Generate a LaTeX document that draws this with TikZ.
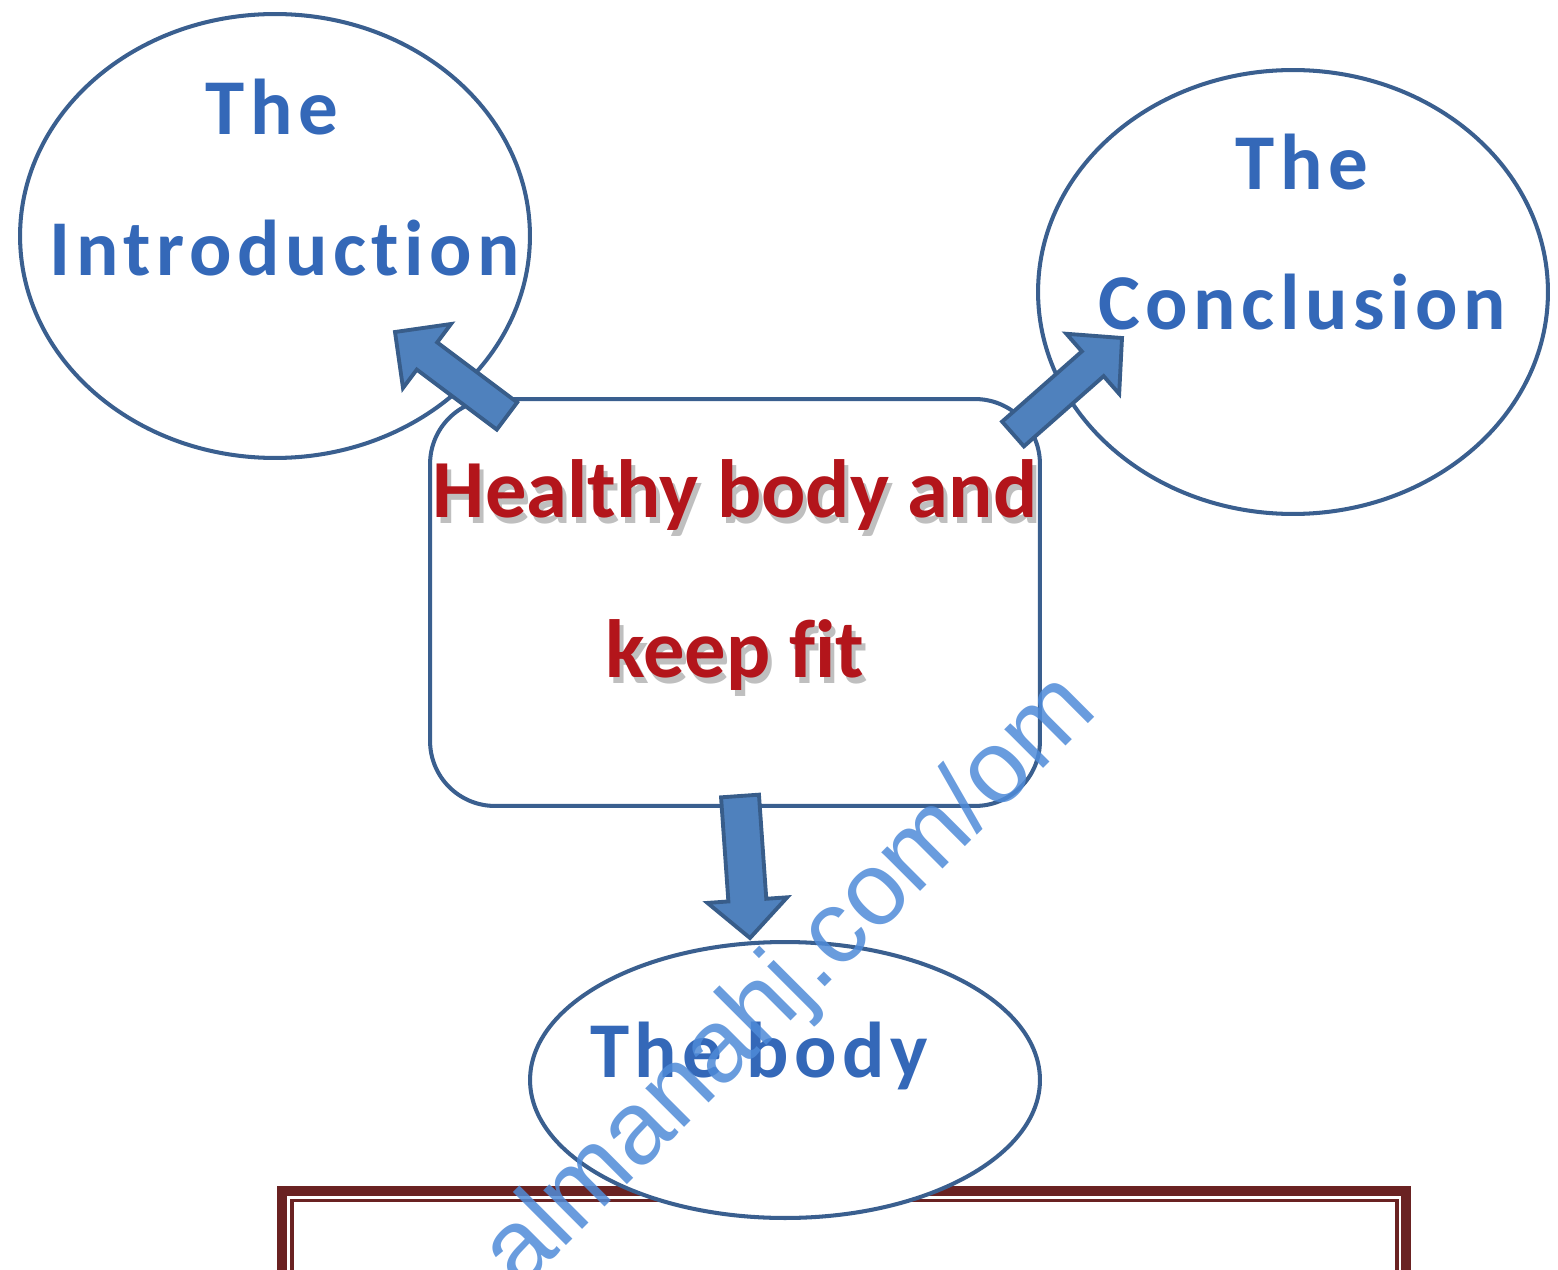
\documentclass[tikz,border=0pt]{standalone}
\usepackage{fontspec}
\usetikzlibrary{calc,shapes.geometric}
\newfontfamily\lblfont{Carlito}[LetterSpace=7.0, Ligatures={NoCommon,NoRare,NoContextual}, RawFeature=-liga]
\newfontfamily\redfont{Carlito}[Ligatures={NoCommon,NoRare,NoContextual}, RawFeature=-liga]
\newfontfamily\wmfont{Liberation Sans}
\definecolor{edgeblue}{HTML}{3A5F8F}
\definecolor{arrowfill}{HTML}{4F81BD}
\definecolor{arrowedge}{HTML}{385D8A}
\definecolor{labelblue}{HTML}{3468B8}
\definecolor{titlered}{HTML}{B3151B}
\definecolor{framered}{HTML}{6A2222}
\definecolor{wmblue}{HTML}{4F8BD8}
\tikzset{
  shapeline/.style={draw=edgeblue, line width=2.3pt, inner sep=0pt},
  blocky/.style={fill=arrowfill, draw=arrowedge, line width=2.2pt, line join=miter},
  bluetext/.style={font=\lblfont\bfseries\fontsize{45}{50}\selectfont, text=labelblue, anchor=base, inner sep=0pt},
  redtext/.style={font=\redfont\bfseries\fontsize{47}{52}\selectfont, text=titlered, anchor=base, inner sep=0pt},
  framethick/.style={draw=framered, line width=5.7pt, line join=miter},
  framethin/.style={draw=framered, line width=2.2pt, line join=miter},
}
\newcommand\RedTitle[3]{%
  \node[redtext,text=black,opacity=.25] (#1s) at ($(#2)+(4,6)$) {#3};
  \node[redtext] (#1) at (#2) {#3};}
\newcommand\BlockArrow[5]{% tail, tip, shaft half, head half, head length
  \coordinate (hb) at ($(#2)!#5!(#1)$);
  \path[blocky] ($(#1)!#3!90:(#2)$) -- ($(hb)!#3!90:(#2)$) -- ($(hb)!#4!90:(#2)$) -- (#2)
     -- ($(hb)!#4!-90:(#2)$) -- ($(hb)!#3!-90:(#2)$) -- ($(#1)!#3!-90:(#2)$) -- cycle;}
\begin{document}
\begin{tikzpicture}[x=0.02cm,y=-0.02cm]
\useasboundingbox (0,0) rectangle (1558,1270);
\clip (0,0) rectangle (1558,1270);
% bottom frame
\draw[framethick] (282,1300) -- (282,1191) -- (1406,1191) -- (1406,1300);
\draw[framethin] (292,1300) -- (292,1200.5) -- (1397,1200.5) -- (1397,1300);
% shapes
\node[ellipse, shapeline, minimum width=10.2cm, minimum height=8.88cm] (intro) at (275,236) {};
\node[ellipse, shapeline, minimum width=10.2cm, minimum height=8.88cm] (concl) at (1293,292) {};
\node[ellipse, shapeline, fill=white, minimum width=10.2cm, minimum height=5.52cm] (body) at (785,1080) {};
\node[rectangle, rounded corners=1.3cm, shapeline, minimum width=12.2cm, minimum height=8.14cm] (topic) at (735,602.5) {};
% block arrows
\coordinate (t1) at (507,416); \coordinate (p1) at (395,332);
\BlockArrow{t1}{p1}{0.34cm}{0.80cm}{0.80cm}
\coordinate (t2) at (1013,434); \coordinate (p2) at (1122,338);
\BlockArrow{t2}{p2}{0.33cm}{0.80cm}{0.78cm}
\coordinate (t3) at (740,796); \coordinate (p3) at (750,938);
\BlockArrow{t3}{p3}{0.38cm}{0.80cm}{0.76cm}
% labels
\node[bluetext] (introA) at (272,135) {The};
\node[bluetext] (introB) at (285,276) {Introduction};
\node[bluetext] (conclA) at (1302,190) {The};
\node[bluetext] (conclB) at (1302,330) {Conclusion};
\node[bluetext] (bodyA) at (759,1077) {The body};
\RedTitle{titleA}{735,517}{Healthy body and}
\RedTitle{titleB}{735,677}{keep fit}
% watermark
\node[rotate=45, font=\wmfont\fontsize{59}{60}\selectfont, text=wmblue, opacity=.85, inner sep=0pt] (wm) at (791,983) {almanahj.com/om};
\end{tikzpicture}
\end{document}
